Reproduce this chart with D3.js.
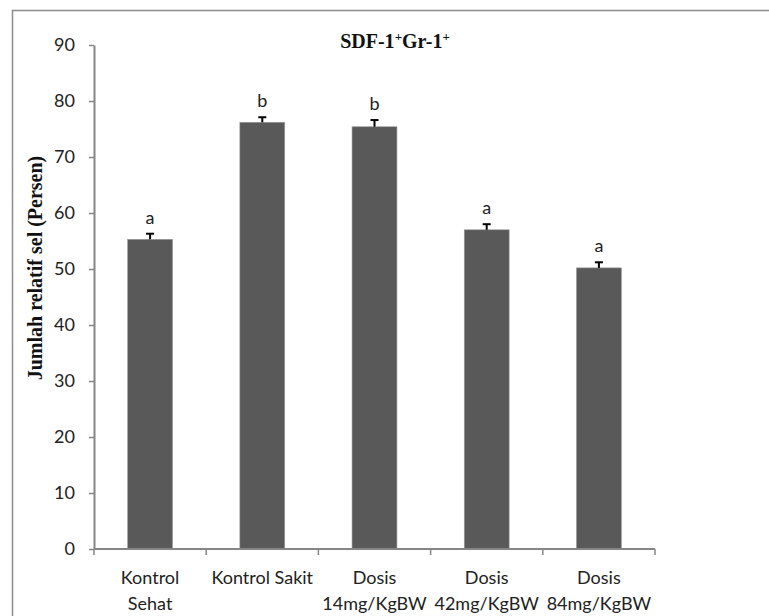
<!DOCTYPE html>
<html>
<head>
<meta charset="utf-8">
<script src="https://cdn.jsdelivr.net/npm/d3@7"></script>
<style>
  body { margin: 0; background: #fff; }
  svg { display: block; }
</style>
</head>
<body>
<div id="chart"></div>
<script>
// data
const categories = [
    ["Kontrol", "Sehat"],
    ["Kontrol Sakit"],
    ["Dosis", "14mg/KgBW"],
    ["Dosis", "42mg/KgBW"],
    ["Dosis", "84mg/KgBW"]
];
const values = [55.3, 76.2, 75.4, 57.0, 50.2];
const errors = [1.0, 0.9, 1.2, 1.0, 1.0];
const letters = ["a", "b", "b", "a", "a"];
const yTicks = [0, 10, 20, 30, 40, 50, 60, 70, 80, 90];

const width = 769, height = 616;
const margin = { top: 45, right: 114, bottom: 67, left: 94 };

const svg = d3.select("#chart").append("svg")
    .attr("width", width)
    .attr("height", height);

// outer frame (right and bottom edges fall outside the picture)
svg.append("rect")
    .attr("x", 12.5).attr("y", 10.5)
    .attr("width", 800).attr("height", 700)
    .attr("fill", "none")
    .attr("stroke", "#8c8c8c")
    .attr("stroke-width", 1.5);

const idx = d3.range(categories.length);
const x = d3.scaleBand()
    .domain(idx)
    .range([margin.left, width - margin.right])
    .paddingInner(0.6)
    .paddingOuter(0.3);

const y = d3.scaleLinear()
    .domain([0, 90])
    .range([height - margin.bottom, margin.top]);

const axisColor = "#868686";
const tickFont = "Lato, 'Open Sans', sans-serif";

// y axis
const yAxis = svg.append("g")
    .attr("transform", `translate(${margin.left},0)`)
    .call(d3.axisLeft(y).tickValues(yTicks).tickSize(5).tickSizeOuter(0).tickPadding(14));
yAxis.select(".domain").attr("stroke", axisColor).attr("stroke-width", 2);
yAxis.selectAll(".tick line").attr("stroke", axisColor).attr("stroke-width", 1.5);
yAxis.selectAll(".tick text")
    .attr("fill", "#222")
    .style("font-family", tickFont)
    .style("font-size", "18px");

// bars
svg.append("g").selectAll("rect")
    .data(idx)
    .enter()
    .append("rect")
    .attr("x", (d) => x(d))
    .attr("y", (d) => y(values[d]))
    .attr("width", x.bandwidth())
    .attr("height", (d) => y(0) - y(values[d]))
    .attr("fill", "#595959")
    .attr("stroke", "#9a9a9a")
    .attr("stroke-width", 0.6);

// error bars (upper only)
const err = svg.append("g").attr("stroke", "#000").attr("stroke-width", 2);
idx.forEach((d) => {
    const cx = x(d) + x.bandwidth() / 2;
    err.append("line")
        .attr("x1", cx).attr("x2", cx)
        .attr("y1", y(values[d])).attr("y2", y(values[d] + errors[d]));
    err.append("line")
        .attr("x1", cx - 4).attr("x2", cx + 4)
        .attr("y1", y(values[d] + errors[d])).attr("y2", y(values[d] + errors[d]));
});

// significance letters
svg.append("g").selectAll("text")
    .data(idx)
    .enter()
    .append("text")
    .attr("x", (d) => x(d) + x.bandwidth() / 2)
    .attr("y", (d) => y(values[d] + errors[d]) - 10)
    .attr("text-anchor", "middle")
    .style("font-family", tickFont)
    .style("font-size", "18px")
    .attr("fill", "#222")
    .text((d) => letters[d]);

// x axis with ticks between categories
const x0 = margin.left, x1 = width - margin.right, step = (x1 - x0) / categories.length;
const xAxis = svg.append("g").attr("transform", `translate(0,${y(0)})`);
xAxis.append("line")
    .attr("x1", x0).attr("x2", x1)
    .attr("stroke", axisColor).attr("stroke-width", 2);
xAxis.selectAll(".xt")
    .data(d3.range(categories.length + 1))
    .enter()
    .append("line")
    .attr("class", "xt")
    .attr("x1", (d) => x0 + d * step).attr("x2", (d) => x0 + d * step)
    .attr("y1", 0).attr("y2", 6)
    .attr("stroke", axisColor).attr("stroke-width", 1.5);

const xl = xAxis.selectAll(".xl")
    .data(idx)
    .enter()
    .append("text")
    .attr("class", "xl")
    .attr("text-anchor", "middle")
    .attr("fill", "#222")
    .style("font-family", tickFont)
    .style("font-size", "18px");
xl.each(function (d) {
    const t = d3.select(this);
    categories[d].forEach((line, i) => {
        t.append("tspan")
            .attr("x", x(d) + x.bandwidth() / 2)
            .attr("y", 35 + i * 26)
            .text(line);
    });
});

// title
const title = svg.append("text")
    .attr("x", 395)
    .attr("y", 48)
    .attr("text-anchor", "middle")
    .style("font-family", "'Liberation Serif', 'Times New Roman', serif")
    .style("font-weight", "bold")
    .style("font-size", "20px")
    .attr("fill", "#111");
title.append("tspan").text("SDF-1");
title.append("tspan").attr("dy", -7).style("font-size", "13px").text("+");
title.append("tspan").attr("dy", 7).text("Gr-1");
title.append("tspan").attr("dy", -7).style("font-size", "13px").text("+");

// y axis title
svg.append("text")
    .attr("transform", "translate(42,268) rotate(-90)")
    .attr("text-anchor", "middle")
    .style("font-family", "'Liberation Serif', 'Times New Roman', serif")
    .style("font-weight", "bold")
    .style("font-size", "20px")
    .attr("fill", "#111")
    .text("Jumlah relatif sel (Persen)");
</script>
</body>
</html>
